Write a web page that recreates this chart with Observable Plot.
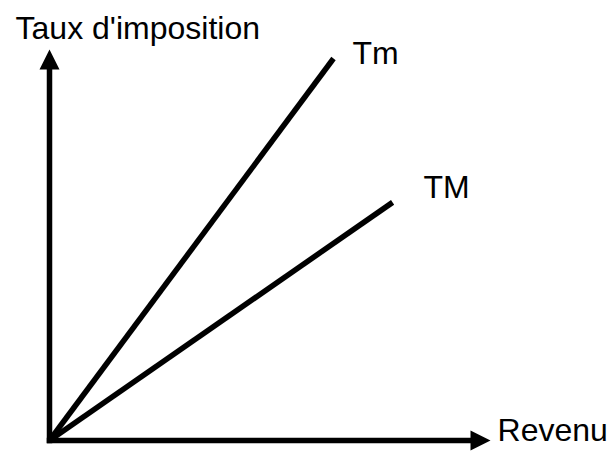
<!DOCTYPE html>
<html>
<head>
<meta charset="utf-8">
<script src="https://cdn.jsdelivr.net/npm/d3@7"></script>
<script src="https://cdn.jsdelivr.net/npm/@observablehq/plot@0.6"></script>
<style>
  html, body { margin: 0; padding: 0; background: #fff; }
  #chart svg { display: block; }
</style>
</head>
<body>
<div id="chart"></div>
<script>
// Schematic data (abstract units: 0..100 on both axes)
const axisLabels = ["Revenu", "Taux d'imposition"];
const lineNames = ["Tm", "TM"];
const lineEndRevenu = [64.4, 77.8];
const lineEndTaux = [97.7, 60.9];
const axisMax = 100;

// label anchor points in data units
const labelX = [68.7, 84.8];
const labelY = [96.3, 62.1];

const lines = lineNames.flatMap((name, i) => [
  {name, x: 0, y: 0},
  {name, x: lineEndRevenu[i], y: lineEndTaux[i]}
]);

const headR = 10;
const xHeadBack = axisMax - headR / 4.41;
const yHeadBack = axisMax - headR / 3.91;

const axes = [
  {axis: "x", x: 0, y: 0}, {axis: "x", x: xHeadBack, y: 0},
  {axis: "y", x: 0, y: 0}, {axis: "y", x: 0, y: yHeadBack}
];

const heads = [
  {x: xHeadBack, y: 0, rot: 90},
  {x: 0, y: yHeadBack, rot: 0}
];

const triangle = {
  draw(context, size) {
    const r = Math.sqrt(size / Math.PI);
    context.moveTo(0, -r);
    context.lineTo(r, r);
    context.lineTo(-r, r);
    context.closePath();
  }
};

const texts = [
  {text: lineNames[0], x: labelX[0], y: labelY[0]},
  {text: lineNames[1], x: labelX[1], y: labelY[1]},
  {text: axisLabels[1], x: -7.7, y: 102.8},
  {text: axisLabels[0], x: 101.6, y: 0}
];

const chart = Plot.plot({
  width: 607,
  height: 452,
  marginLeft: 49,
  marginRight: 117,
  marginTop: 49,
  marginBottom: 12,
  x: {domain: [0, axisMax], axis: null},
  y: {domain: [0, axisMax], axis: null},
  style: {fontFamily: "'Liberation Sans', Arial, sans-serif", background: "#fff"},
  marks: [
    Plot.line(axes, {x: "x", y: "y", z: "axis", stroke: "black", strokeWidth: 5.5, strokeLinecap: "square"}),
    Plot.line(lines, {x: "x", y: "y", z: "name", stroke: "black", strokeWidth: 5.5, strokeLinecap: "butt"}),
    Plot.dot(heads, {x: "x", y: "y", rotate: "rot", symbol: triangle, r: headR, fill: "black", stroke: "none"}),
    Plot.text(texts, {x: "x", y: "y", text: "text", textAnchor: "start", lineAnchor: "bottom", fontSize: 32, fill: "black"})
  ]
});

document.getElementById("chart").appendChild(chart);
</script>
</body>
</html>
